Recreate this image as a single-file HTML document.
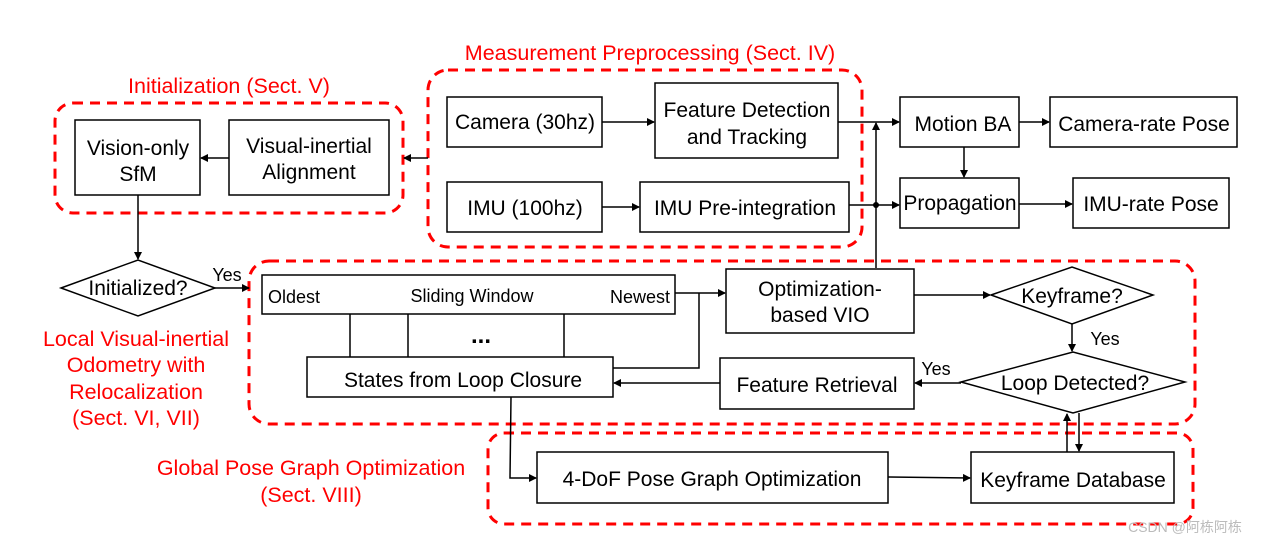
<!DOCTYPE html>
<html><head><meta charset="utf-8"><style>
html,body{margin:0;padding:0;background:#fff;}
svg{display:block;font-family:"Liberation Sans",sans-serif;}
</style></head><body>
<svg width="1261" height="546" viewBox="0 0 1261 546" xmlns="http://www.w3.org/2000/svg">
<defs>
<marker id="a" markerWidth="8" markerHeight="8" refX="7" refY="4" orient="auto" markerUnits="userSpaceOnUse">
<path d="M0,0 L8,4 L0,8 z" fill="#000"/></marker>
</defs>
<g fill="none" stroke="#f00" stroke-width="3" stroke-dasharray="10,7">
<rect x="55" y="103" width="348" height="110" rx="18"/>
<rect x="428" y="70" width="434" height="177" rx="20"/>
<rect x="249" y="261" width="946" height="163" rx="20"/>
<rect x="488" y="433" width="705" height="91" rx="16"/>
</g>
<g fill="#f00" font-size="21.5" text-anchor="middle">
<text x="229" y="93">Initialization (Sect. V)</text>
<text x="650" y="60">Measurement Preprocessing (Sect. IV)</text>
<text x="136" y="346">Local Visual-inertial</text>
<text x="136" y="372">Odometry with</text>
<text x="136" y="399">Relocalization</text>
<text x="136" y="425">(Sect. VI, VII)</text>
<text x="311" y="475">Global Pose Graph Optimization</text>
<text x="311" y="502">(Sect. VIII)</text>
</g>
<g fill="#fff" stroke="#000" stroke-width="1.5">
<rect x="75" y="120" width="125" height="75"/>
<rect x="229" y="120" width="160" height="75"/>
<rect x="447" y="97" width="155" height="50"/>
<rect x="655" y="83" width="183" height="75"/>
<rect x="447" y="182" width="155" height="50"/>
<rect x="640" y="182" width="209" height="50"/>
<rect x="900" y="97" width="119" height="50"/>
<rect x="1050" y="97" width="187" height="50"/>
<rect x="900" y="178" width="119" height="50"/>
<rect x="1073" y="178" width="156" height="50"/>
<polygon points="61,288 138,260 215,288 138,316"/>
<rect x="262" y="275" width="413" height="39"/>
<rect x="726" y="269" width="188" height="64"/>
<polygon points="991,295 1072,267 1153,295 1072,324"/>
<polygon points="961,382 1073,352 1185,382 1073,413"/>
<rect x="720" y="358" width="194" height="51"/>
<rect x="307" y="357" width="306" height="40"/>
<rect x="537" y="452" width="351" height="51"/>
<rect x="971" y="452" width="203" height="51"/>
</g>
<g stroke="#000" stroke-width="1.5" fill="none">
<line x1="229" y1="158" x2="201" y2="158" marker-end="url(#a)"/>
<line x1="428" y1="158" x2="404" y2="158" marker-end="url(#a)"/>
<line x1="138" y1="195" x2="138" y2="259" marker-end="url(#a)"/>
<line x1="215" y1="288" x2="249" y2="288" marker-end="url(#a)"/>
<line x1="602" y1="122" x2="654" y2="122" marker-end="url(#a)"/>
<line x1="602" y1="207" x2="639" y2="207" marker-end="url(#a)"/>
<line x1="838" y1="122" x2="899" y2="122" marker-end="url(#a)"/>
<line x1="849" y1="205" x2="899" y2="205" marker-end="url(#a)"/>
<line x1="876" y1="268" x2="876" y2="123" marker-end="url(#a)"/>
<line x1="1019" y1="122" x2="1049" y2="122" marker-end="url(#a)"/>
<line x1="964" y1="147" x2="964" y2="177" marker-end="url(#a)"/>
<line x1="1019" y1="204" x2="1072" y2="204" marker-end="url(#a)"/>
<line x1="675" y1="293" x2="725" y2="293" marker-end="url(#a)"/>
<polyline points="613,368 699,368 699,293"/>
<line x1="350" y1="314" x2="350" y2="357"/>
<line x1="408" y1="314" x2="408" y2="357"/>
<line x1="564" y1="314" x2="564" y2="357"/>
<line x1="914" y1="295" x2="990" y2="295" marker-end="url(#a)"/>
<line x1="1072" y1="324" x2="1072" y2="351" marker-end="url(#a)"/>
<line x1="961" y1="383" x2="915" y2="383" marker-end="url(#a)"/>
<line x1="720" y1="383" x2="614" y2="383" marker-end="url(#a)"/>
<polyline points="511,397 510,478 536,478" marker-end="url(#a)"/>
<line x1="888" y1="477" x2="970" y2="478" marker-end="url(#a)"/>
<line x1="1067" y1="452" x2="1067" y2="414" marker-end="url(#a)"/>
<line x1="1079" y1="413" x2="1079" y2="451" marker-end="url(#a)"/>
</g>
<circle cx="876" cy="205" r="3" fill="#000"/>
<g fill="#000" font-size="21" text-anchor="middle">
<text x="138" y="155">Vision-only</text>
<text x="138" y="181">SfM</text>
<text x="309" y="153">Visual-inertial</text>
<text x="309" y="179">Alignment</text>
<text x="525" y="129">Camera (30hz)</text>
<text x="747" y="117">Feature Detection</text>
<text x="747" y="144">and Tracking</text>
<text x="525" y="215">IMU (100hz)</text>
<text x="745" y="215">IMU Pre-integration</text>
<text x="963" y="131">Motion BA</text>
<text x="1144" y="131">Camera-rate Pose</text>
<text x="960" y="210">Propagation</text>
<text x="1151" y="211">IMU-rate Pose</text>
<text x="138" y="295">Initialized?</text>
<text x="820" y="296">Optimization-</text>
<text x="820" y="322">based VIO</text>
<text x="1072" y="303">Keyframe?</text>
<text x="1075" y="390">Loop Detected?</text>
<text x="817" y="392">Feature Retrieval</text>
<text x="463" y="387">States from Loop Closure</text>
<text x="712" y="486">4-DoF Pose Graph Optimization</text>
<text x="1073" y="487">Keyframe Database</text>
</g>
<g fill="#000" font-size="18">
<text x="227" y="281" text-anchor="middle">Yes</text>
<text x="268" y="303">Oldest</text>
<text x="472" y="302" text-anchor="middle">Sliding Window</text>
<text x="670" y="303" text-anchor="end">Newest</text>
<text x="1105" y="345" text-anchor="middle">Yes</text>
<text x="936" y="375" text-anchor="middle">Yes</text>
<text x="481" y="343" font-size="24" font-weight="bold" text-anchor="middle">...</text>
</g>
<text x="1185" y="532" fill="#bbb" font-size="14" text-anchor="middle" font-family="Liberation Sans, Noto Sans CJK SC, sans-serif">CSDN @阿栋阿栋</text>
</svg>
</body></html>
